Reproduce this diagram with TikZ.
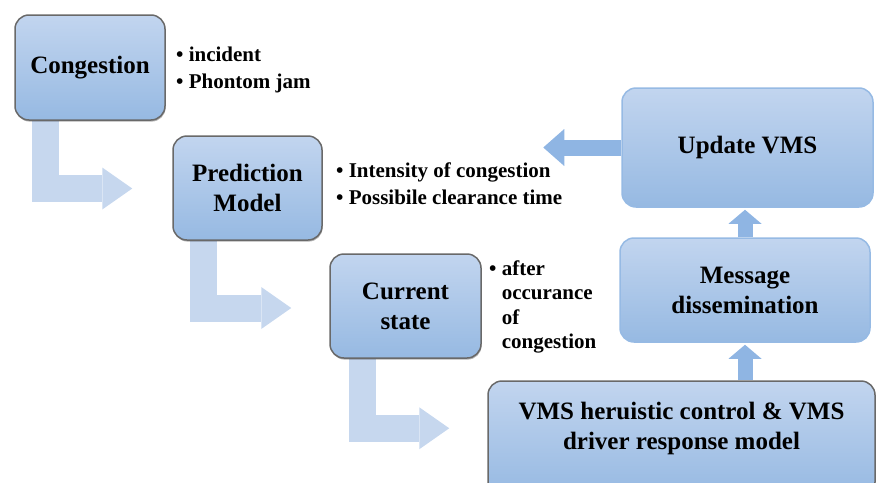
\documentclass[tikz,border=0pt]{standalone}
\usepackage{fontspec}
\setmainfont{Liberation Serif}
\usetikzlibrary{arrows.meta,calc,shadows,backgrounds}
\definecolor{BXtop}{RGB}{194,213,239}
\definecolor{BXbot}{RGB}{150,185,226}
\definecolor{BXln}{RGB}{105,105,105}
\definecolor{BXlt}{RGB}{150,186,228}
\definecolor{AWlt}{RGB}{198,215,238}
\definecolor{AWdk}{RGB}{143,181,227}
\tikzset{
  % text inside the boxes
  boxtxt/.style={
    align=center, text=black,
    font=\bfseries\fontsize{25}{30}\selectfont
  },
  % box with grey outline
  gbox/.style={
    boxtxt, draw=BXln, line width=1.5pt, rounded corners=14pt,
    top color=BXtop, bottom color=BXbot, inner sep=0pt,
    drop shadow={shadow xshift=0.6pt, shadow yshift=-1.6pt,
      fill=black, opacity=0.3}
  },
  % box with blue outline
  bbox/.style={
    boxtxt, draw=BXlt, line width=1.5pt, rounded corners=14pt,
    top color=BXtop, bottom color=BXbot, inner sep=0pt
  },
  % bullet notes
  note/.style={
    align=left, inner sep=0pt, text=black,
    font=\bfseries\fontsize{21}{27}\selectfont
  },
  % pale bent arrow
  lbend/.style={
    draw=AWlt, line width=27pt,
    -{Triangle[width=42pt,length=30pt,line width=0pt]}
  },
  % small darker arrows
  upar/.style={
    draw=AWdk, line width=15pt,
    -{Triangle[width=33pt,length=14pt,line width=0pt]}
  },
  backar/.style={
    draw=AWdk, line width=16pt,
    -{Triangle[width=37pt,length=21pt,line width=0pt]}
  },
}
\begin{document}
\begin{tikzpicture}[x=1pt, y=-1pt]
\useasboundingbox (0,0) rectangle (877,482);
\clip (0,0) rectangle (877,482);

% -- left staircase --
\node[gbox, minimum width=150pt, minimum height=105pt] (cong) at (90,67.5) {Congestion};
\node[gbox, minimum width=149pt, minimum height=104pt] (pred) at (247.5,188) {Prediction\\Model};
\node[gbox, minimum width=151pt, minimum height=104pt] (curr) at (405.5,306) {Current\\state};
\node[gbox, minimum width=387pt, minimum height=115pt,
  label={[name=vmsctxt, boxtxt, yshift=10.5pt]center:VMS heruistic control \& VMS\\driver response model}]
  (vmsc) at (681.5,438.5) {};

% -- right column --
\node[bbox, minimum width=250pt, minimum height=104pt] (mess) at (745,290) {Message\\dissemination};
\node[bbox, minimum width=251pt, minimum height=119pt] (upd) at (747.5,147.5) {Update VMS};

% -- notes --
\node[note, anchor=west] (congnote) at (176,70)
  {\textbullet\ incident\\\textbullet\ Phontom jam};
\node[note, anchor=west] (prednote) at (336,184)
  {\textbullet\ Intensity of congestion\\\textbullet\ Possibile clearance time};
\node[note, anchor=north west, font=\bfseries\fontsize{21}{24.5}\selectfont] (currnote) at (489,260.5)
  {\textbullet\ after\\\phantom{\textbullet\ }occurance\\\phantom{\textbullet\ }of\\\phantom{\textbullet\ }congestion};

% -- arrows --
\coordinate (updback) at ($(upd.west)+(-78,0)$);
\begin{pgfonlayer}{background}
  \draw[lbend] ($(cong.south west)+(31.5,0)$) |- ($(pred.west)+(-40,0.5)$);
  \draw[lbend] ($(pred.south west)+(31.5,0)$) |- ($(curr.west)+(-38,2)$);
  \draw[lbend] ($(curr.south west)+(33,0)$) |- ($(vmsc.north west)+(-38,48)$);
  \draw[upar, shorten >=2pt] (vmsc.north -| mess.south) -- (mess.south);
  \draw[upar, shorten >=2pt] (mess.north) -- (upd.south -| mess.north);
  \draw[backar] (upd.west) -- (updback);
\end{pgfonlayer}

\end{tikzpicture}
\end{document}
